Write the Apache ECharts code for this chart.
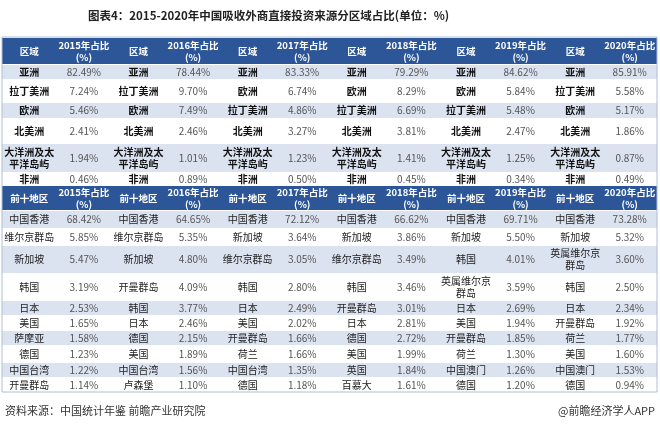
<!DOCTYPE html>
<html>
<head>
<meta charset="utf-8">
<title>图表4</title>
<script src="https://cdn.jsdelivr.net/npm/echarts@6/dist/echarts.min.js"></script>
<style>
  html, body { margin: 0; padding: 0; background: #fff; }
  #chart { width: 660px; height: 430px; }
</style>
</head>
<body>
<div id="chart"></div>
<script>
const years = ['2015', '2016', '2017', '2018', '2019', '2020'];

// 分区域
const regionNames = [
  ['亚洲', '拉丁美洲', '欧洲', '北美洲', '大洋洲及太平洋岛屿', '非洲'],
  ['亚洲', '拉丁美洲', '欧洲', '北美洲', '大洋洲及太平洋岛屿', '非洲'],
  ['亚洲', '欧洲', '拉丁美洲', '北美洲', '大洋洲及太平洋岛屿', '非洲'],
  ['亚洲', '欧洲', '拉丁美洲', '北美洲', '大洋洲及太平洋岛屿', '非洲'],
  ['亚洲', '欧洲', '拉丁美洲', '北美洲', '大洋洲及太平洋岛屿', '非洲'],
  ['亚洲', '拉丁美洲', '欧洲', '北美洲', '大洋洲及太平洋岛屿', '非洲']
];
const regionShares = [
  [82.49, 7.24, 5.46, 2.41, 1.94, 0.46],
  [78.44, 9.70, 7.49, 2.46, 1.01, 0.89],
  [83.33, 6.74, 4.86, 3.27, 1.23, 0.50],
  [79.29, 8.29, 6.69, 3.81, 1.41, 0.45],
  [84.62, 5.84, 5.48, 2.47, 1.25, 0.34],
  [85.91, 5.58, 5.17, 1.86, 0.87, 0.49]
];

// 前十地区
const topNames = [
  ['中国香港', '维尔京群岛', '新加坡', '韩国', '日本', '美国', '萨摩亚', '德国', '中国台湾', '开曼群岛'],
  ['中国香港', '维尔京群岛', '新加坡', '开曼群岛', '韩国', '日本', '德国', '美国', '中国台湾', '卢森堡'],
  ['中国香港', '新加坡', '维尔京群岛', '韩国', '日本', '美国', '开曼群岛', '荷兰', '中国台湾', '德国'],
  ['中国香港', '新加坡', '维尔京群岛', '韩国', '开曼群岛', '日本', '德国', '美国', '英国', '百慕大'],
  ['中国香港', '新加坡', '韩国', '英属维尔京群岛', '日本', '美国', '开曼群岛', '荷兰', '中国澳门', '德国'],
  ['中国香港', '新加坡', '英属维尔京群岛', '韩国', '日本', '开曼群岛', '荷兰', '美国', '中国澳门', '德国']
];
const topShares = [
  [68.42, 5.85, 5.47, 3.19, 2.53, 1.65, 1.58, 1.23, 1.22, 1.14],
  [64.65, 5.35, 4.80, 4.09, 3.77, 2.46, 2.15, 1.89, 1.56, 1.10],
  [72.12, 3.64, 3.05, 2.80, 2.49, 2.02, 1.66, 1.66, 1.35, 1.18],
  [66.62, 3.86, 3.49, 3.46, 3.01, 2.81, 2.72, 1.99, 1.84, 1.61],
  [69.71, 5.50, 4.01, 3.59, 2.69, 1.94, 1.85, 1.30, 1.26, 1.20],
  [73.28, 5.32, 3.60, 2.50, 2.34, 1.92, 1.77, 1.60, 1.53, 0.94]
];

// 行高（布局）：表头、6 行区域、表头、10 行前十地区
const rowHeights = [27, 15, 23, 16, 25, 29, 13, 25, 18, 17, 28, 27, 15, 15, 15, 17, 15, 15];
const rowStart = [];
rowHeights.reduce((acc, h) => { rowStart.push(acc); return acc + h; }, 0);
const totalHeight = rowHeights.reduce((a, b) => a + b, 0);

const headRows = [0, 7];
const rowKind = (r) => {
  if (headRows.includes(r)) return 'head';
  const base = r < 7 ? 1 : 8;
  return (r - base) % 2 === 0 ? 'band' : 'plain';
};

const cells = [];
years.forEach((y, i) => {
  cells.push({ col: 2 * i, row: 0, text: '区域', kind: 'head' });
  cells.push({ col: 2 * i + 1, row: 0, text: y + '年占比\n(%)', kind: 'head' });
  regionNames[i].forEach((n, j) => {
    cells.push({ col: 2 * i, row: 1 + j, text: n, kind: 'name' });
    cells.push({ col: 2 * i + 1, row: 1 + j, text: regionShares[i][j].toFixed(2) + '%', kind: 'value' });
  });
  cells.push({ col: 2 * i, row: 7, text: '前十地区', kind: 'head' });
  cells.push({ col: 2 * i + 1, row: 7, text: y + '年占比\n(%)', kind: 'head' });
  topNames[i].forEach((n, j) => {
    cells.push({ col: 2 * i, row: 8 + j, text: n, kind: 'name2' });
    cells.push({ col: 2 * i + 1, row: 8 + j, text: topShares[i][j].toFixed(2) + '%', kind: 'value' });
  });
});

const FONT = '"Noto Sans CJK SC", "Noto Sans", sans-serif';
const textStyles = {
  head: { fill: '#ffffff', fontWeight: 'bold', fontSize: 9.5, overflow: 'none' },
  name: { fill: '#111111', fontWeight: 'bold', fontSize: 10, overflow: 'break' },
  name2: { fill: '#222222', fontWeight: 'normal', fontSize: 10, overflow: 'break' },
  value: { fill: '#555555', fontWeight: 'normal', fontSize: 10, overflow: 'none' }
};
const fills = { head: '#2d5699', band: '#dbe2f0', plain: '#ffffff' };

const myChart = echarts.init(document.getElementById('chart'));
myChart.setOption({
  animation: false,
  title: [
    {
      text: '图表4：2015-2020年中国吸收外商直接投资来源分区域占比(单位：%)',
      left: 88,
      top: 10,
      padding: 0,
      textStyle: { fontFamily: FONT, fontSize: 11.5, fontWeight: 'bold', color: '#222' }
    },
    {
      text: '资料来源：中国统计年鉴 前瞻产业研究院',
      left: 5,
      top: 405,
      padding: 0,
      textStyle: { fontFamily: FONT, fontSize: 11, fontWeight: 'normal', color: '#333' }
    },
    {
      text: '@前瞻经济学人APP',
      right: 5,
      top: 405,
      padding: 0,
      textStyle: { fontFamily: FONT, fontSize: 11, fontWeight: 'normal', color: '#333' }
    }
  ],
  grid: {
    left: 2,
    right: 3,
    top: 37,
    bottom: 38,
    show: true,
    borderColor: '#aebcd8',
    borderWidth: 1,
    z: 5
  },
  xAxis: { type: 'value', min: 0, max: 12, show: false },
  yAxis: { type: 'value', min: 0, max: totalHeight, inverse: true, show: false },
  series: [
    {
      type: 'custom',
      silent: true,
      data: rowHeights.map((h, r) => [0, r]),
      renderItem: (params, api) => {
        const r = params.dataIndex;
        const p0 = api.coord([0, rowStart[r]]);
        const p1 = api.coord([12, rowStart[r] + rowHeights[r]]);
        const kind = rowKind(r);
        const inset = kind === 'plain' ? 0 : 1;
        return {
          type: 'rect',
          shape: { x: p0[0], y: p0[1] + inset, width: p1[0] - p0[0], height: p1[1] - p0[1] - inset },
          style: { fill: fills[kind] }
        };
      }
    },
    {
      type: 'custom',
      silent: true,
      data: cells.map((c) => [c.col, c.row]),
      renderItem: (params, api) => {
        const c = cells[params.dataIndex];
        const p0 = api.coord([c.col, rowStart[c.row]]);
        const p1 = api.coord([c.col + 1, rowStart[c.row] + rowHeights[c.row]]);
        const w = p1[0] - p0[0];
        const h = p1[1] - p0[1];
        const s = textStyles[c.kind];
        const style = {
          text: c.text,
          x: p0[0] + w / 2,
          y: p0[1] + h / 2 + 0.5,
          align: 'center',
          verticalAlign: 'middle',
          lineHeight: 12,
          fill: s.fill,
          fontFamily: FONT,
          fontSize: s.fontSize,
          fontWeight: s.fontWeight
        };
        if (s.overflow === 'break') {
          style.width = w - 1;
          style.overflow = 'break';
        }
        return { type: 'text', style: style };
      }
    }
  ]
});
</script>
</body>
</html>
